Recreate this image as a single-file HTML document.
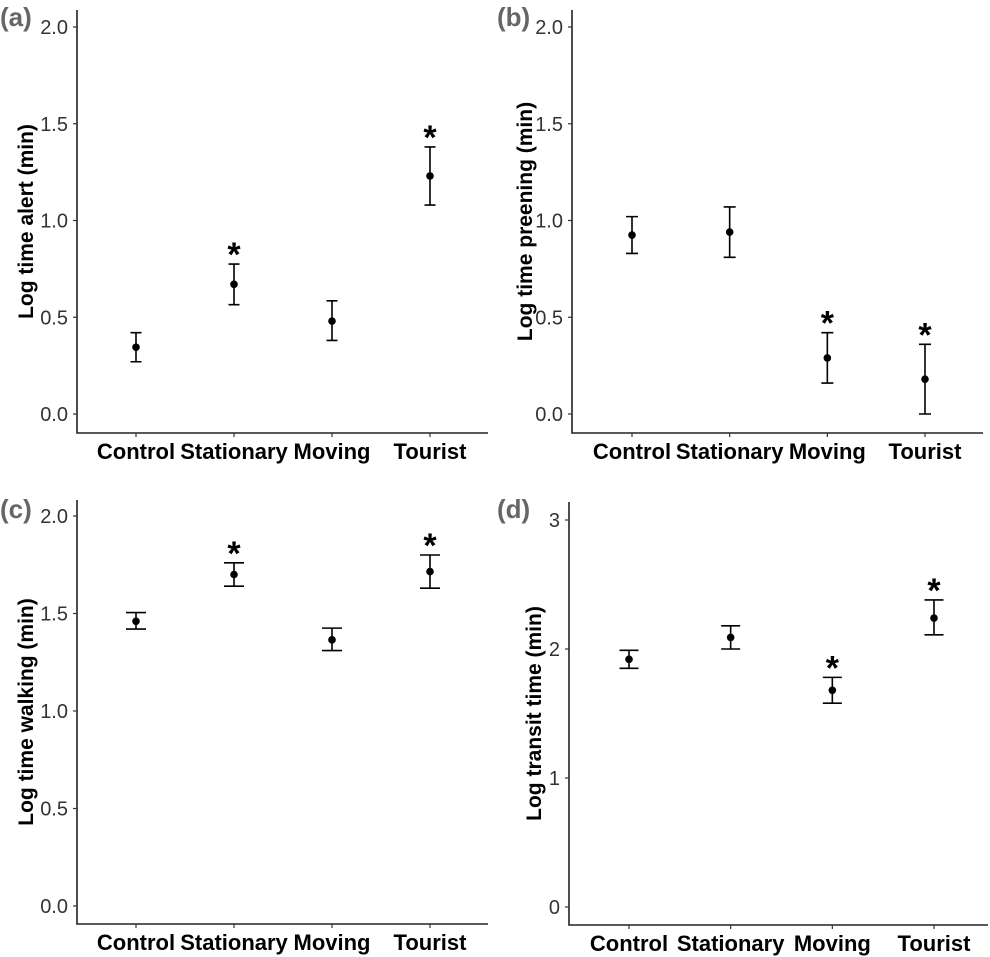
<!DOCTYPE html>
<html><head><meta charset="utf-8"><style>
body{margin:0;background:#fff;}
svg{display:block;font-family:"Liberation Sans",Arial,sans-serif;}
</style></head><body>
<svg id="fig" width="990" height="957" viewBox="0 0 990 957"></svg>
<script>
const categories = ["Control","Stationary","Moving","Tourist"];
const aMean = [0.345,0.67,0.48,1.23];
const aLow  = [0.27,0.565,0.38,1.08];
const aHigh = [0.42,0.775,0.585,1.38];
const aSig  = [false,true,false,true];
const aTicks = ["0.0","0.5","1.0","1.5","2.0"];
const bMean = [0.925,0.94,0.29,0.18];
const bLow  = [0.83,0.81,0.16,0.0];
const bHigh = [1.02,1.07,0.42,0.36];
const bSig  = [false,false,true,true];
const bTicks = ["0.0","0.5","1.0","1.5","2.0"];
const cMean = [1.46,1.70,1.365,1.715];
const cLow  = [1.42,1.64,1.31,1.63];
const cHigh = [1.505,1.76,1.425,1.80];
const cSig  = [false,true,false,true];
const cTicks = ["0.0","0.5","1.0","1.5","2.0"];
const dMean = [1.92,2.09,1.68,2.24];
const dLow  = [1.85,2.0,1.58,2.11];
const dHigh = [1.99,2.18,1.78,2.38];
const dSig  = [false,false,true,true];
const dTicks = ["0","1","2","3"];

const NS="http://www.w3.org/2000/svg";
const svg=document.getElementById('fig');
function mk(tag,attrs,parent,text){const e=document.createElementNS(NS,tag);for(const k in attrs)e.setAttribute(k,attrs[k]);if(text!==undefined)e.textContent=text;(parent||svg).appendChild(e);return e;}

function panel(cfg){
  const g=mk('g',{});
  
  
  const tv=cfg.ticks.map(Number);
  const vmin=tv[0],vmax=tv[tv.length-1];
  const y=v=>cfg.y0+(v-vmin)/(vmax-vmin)*(cfg.yMax-cfg.y0);
  const x=i=>cfg.cx0+i*(cfg.cx1-cfg.cx0)/(categories.length-1);
  const ax=mk('path',{d:`M${cfg.ax},${cfg.top}V${cfg.bottom}H${cfg.right}`,fill:'none',stroke:'#222','stroke-width':1.6},g);
  
  
  cfg.ticks.forEach((t,i)=>{
    const yy=y(tv[i]);
    mk('line',{x1:cfg.ax-4,x2:cfg.ax,y1:yy,y2:yy,stroke:'#333','stroke-width':1.2},g);
    const tl=mk('text',{x:cfg.ax-9,y:yy+7,'text-anchor':'end','font-size':20,fill:'#333'},g,t);
    
    
  });
  categories.forEach((c,i)=>{
    const xx=x(i);
    mk('line',{x1:xx,x2:xx,y1:cfg.bottom,y2:cfg.bottom+4,stroke:'#333','stroke-width':1.2},g);
    const cl=mk('text',{x:xx,y:cfg.bottom+26,'text-anchor':'middle','font-size':22,'font-weight':'bold',fill:'#000'},g,c);
    
    
    const hw=cfg.cap;
    const eb=mk('path',{d:`M${xx-hw},${y(cfg.high[i])}H${xx+hw}M${xx},${y(cfg.high[i])}V${y(cfg.low[i])}M${xx-hw},${y(cfg.low[i])}H${xx+hw}`,stroke:'#000','stroke-width':1.6,fill:'none'},g);
    
    
    const pt=mk('circle',{cx:xx,cy:y(cfg.mean[i]),r:3.8,fill:'#000'},g);
    
    
    if(cfg.sig[i]){
      const st=mk('text',{x:xx,y:y(cfg.high[i])+2,'text-anchor':'middle','font-size':34,'font-weight':'bold',fill:'#000'},g,'*');
      
      
    }
  });
  const my=(cfg.top+cfg.bottom)/2;
  const yt=mk('text',{x:cfg.titleX,y:my,'text-anchor':'middle','font-size':21,'font-weight':'bold',fill:'#000',transform:`rotate(-90 ${cfg.titleX} ${my})`},g,cfg.title);
  
  
  const pl=mk('text',{x:cfg.labX,y:cfg.labY,'font-size':26,'font-weight':'bold',fill:'#666'},g,'('+cfg.id+')');
  
  
}
panel({id:'a',ticks:aTicks,mean:aMean,low:aLow,high:aHigh,sig:aSig,ax:77,top:10,bottom:433,right:488,y0:414,yMax:27,cx0:136,cx1:430,cap:5.5,title:'Log time alert (min)',titleX:33,labX:0,labY:26});
panel({id:'b',ticks:bTicks,mean:bMean,low:bLow,high:bHigh,sig:bSig,ax:572,top:10,bottom:433,right:983,y0:414,yMax:27,cx0:632,cx1:925,cap:6,title:'Log time preening (min)',titleX:532,labX:497,labY:26});
panel({id:'c',ticks:cTicks,mean:cMean,low:cLow,high:cHigh,sig:cSig,ax:77,top:500,bottom:924,right:488,y0:906,yMax:516,cx0:136,cx1:430,cap:10,title:'Log time walking (min)',titleX:33,labX:0,labY:518});
panel({id:'d',ticks:dTicks,mean:dMean,low:dLow,high:dHigh,sig:dSig,ax:569,top:502,bottom:925,right:988,y0:907,yMax:520,cx0:629,cx1:934,cap:9.5,title:'Log transit time (min)',titleX:541,labX:497,labY:518});
</script>
</body></html>
